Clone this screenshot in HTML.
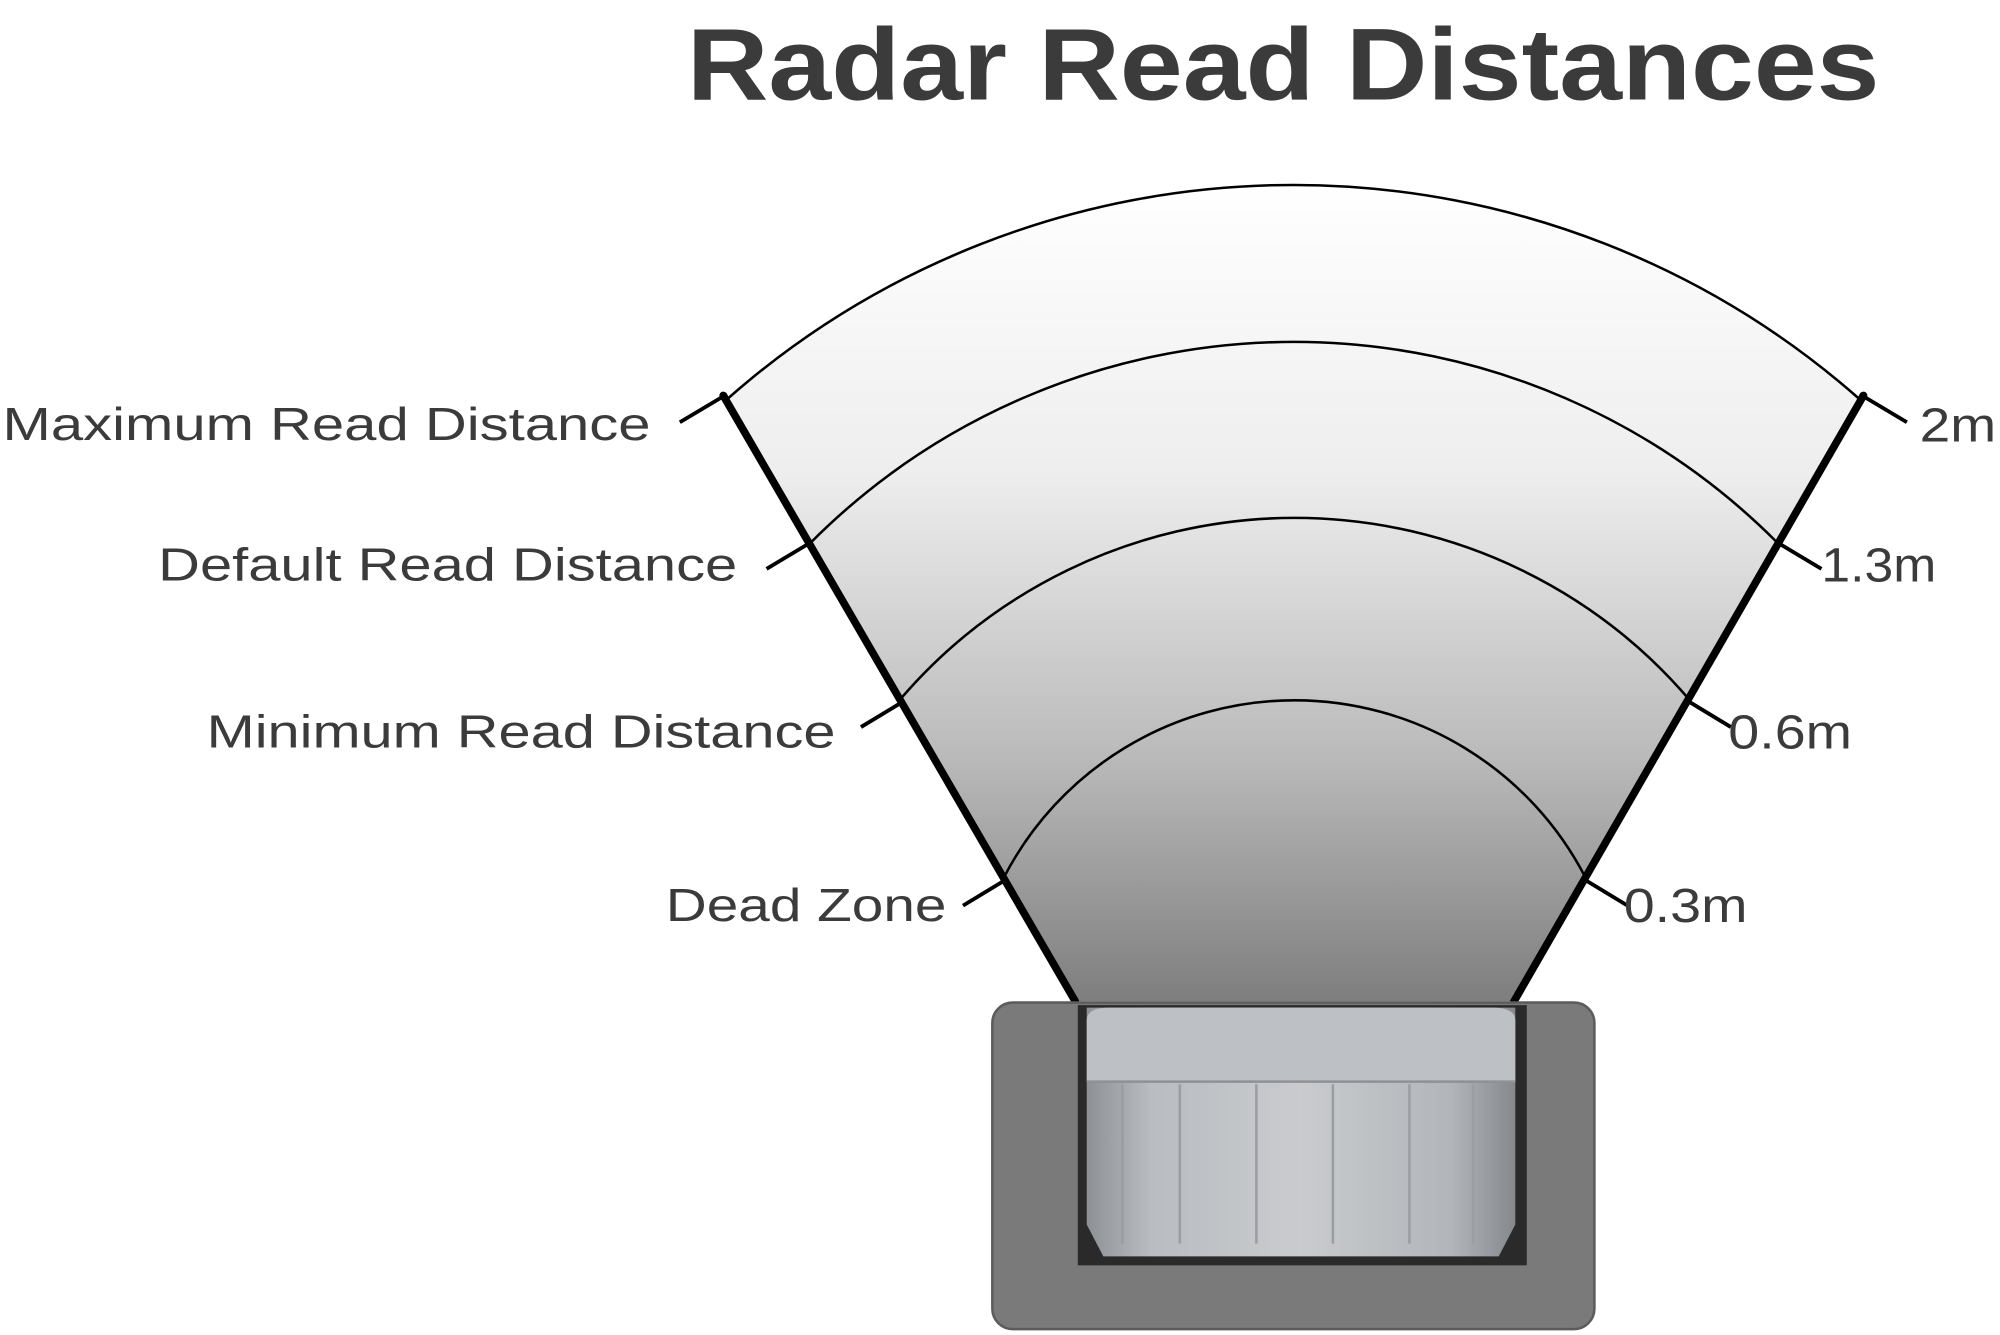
<!DOCTYPE html>
<html><head><meta charset="utf-8"><style>
html,body{margin:0;padding:0;background:#fff;}
svg{display:block;}
text{font-family:"Liberation Sans",sans-serif;fill:#3b3b3b;}
</style></head><body>
<svg width="2000" height="1335" viewBox="0 0 1568 1046.6" xmlns="http://www.w3.org/2000/svg">
<defs>
<linearGradient id="g" x1="0" y1="0" x2="0" y2="1" gradientUnits="objectBoundingBox">
<stop offset="0" stop-color="#ffffff"/>
<stop offset="0.35" stop-color="#eeeeee"/>
<stop offset="0.7" stop-color="#bababa"/>
<stop offset="1" stop-color="#7e7e7e"/>
</linearGradient>
<linearGradient id="cyl" x1="0" y1="0" x2="1" y2="0">
<stop offset="0" stop-color="#8d9094"/>
<stop offset="0.15" stop-color="#b9bcc0"/>
<stop offset="0.5" stop-color="#c9cbce"/>
<stop offset="0.85" stop-color="#b2b5b9"/>
<stop offset="1" stop-color="#85888c"/>
</linearGradient>
</defs>
<text x="1006" y="78" font-size="80" font-weight="bold" text-anchor="middle" textLength="935" lengthAdjust="spacingAndGlyphs">Radar Read Distances</text>

<path d="M570,313 A670.7,670.7 0 0 1 1458,313 L1187,785 L843,785 Z" fill="url(#g)"/>
<g fill="none" stroke="#000" stroke-width="2">
<path d="M570,313 A670.7,670.7 0 0 1 1458,313"/>
<path d="M636,425 A534.8,534.8 0 0 1 1393,425"/>
<path d="M706,548 A407.2,407.2 0 0 1 1324,548"/>
<path d="M787,688 A256.5,256.5 0 0 1 1243,688"/>
</g>
<g stroke="#000" stroke-width="6" stroke-linecap="round">
<line x1="567" y1="310" x2="843" y2="785"/>
<line x1="1461" y1="310" x2="1187" y2="785"/>
</g>
<g stroke="#000" stroke-width="3">
<line x1="533" y1="331" x2="570" y2="309"/>
<line x1="601" y1="446" x2="636" y2="425"/>
<line x1="675" y1="570" x2="708" y2="550"/>
<line x1="755" y1="710" x2="788" y2="690"/>
<line x1="1458" y1="309" x2="1495" y2="331"/>
<line x1="1393" y1="425" x2="1428" y2="446"/>
<line x1="1324" y1="550" x2="1357" y2="570"/>
<line x1="1243" y1="690" x2="1276" y2="710"/>
</g>
<g font-size="36">
<text x="510" y="345" text-anchor="end" textLength="508" lengthAdjust="spacingAndGlyphs">Maximum Read Distance</text>
<text x="578" y="455" text-anchor="end" textLength="454" lengthAdjust="spacingAndGlyphs">Default Read Distance</text>
<text x="655" y="586" text-anchor="end" textLength="493" lengthAdjust="spacingAndGlyphs">Minimum Read Distance</text>
<text x="742" y="722" text-anchor="end" textLength="220" lengthAdjust="spacingAndGlyphs">Dead Zone</text>
</g>
<g font-size="38">
<text x="1505" y="346" textLength="60" lengthAdjust="spacingAndGlyphs">2m</text>
<text x="1428" y="456" textLength="90" lengthAdjust="spacingAndGlyphs">1.3m</text>
<text x="1355" y="587" textLength="97" lengthAdjust="spacingAndGlyphs">0.6m</text>
<text x="1273" y="723" textLength="97" lengthAdjust="spacingAndGlyphs">0.3m</text>
</g>

<rect x="778" y="786" width="472" height="256" rx="16" fill="#7a7a7a" stroke="#5c5c5c" stroke-width="2"/>
<rect x="845" y="788" width="352" height="204" fill="#2a2a2a"/>
<path d="M852,790 L1188,790 L1188,960 L1175,985 L865,985 L852,960 Z" fill="url(#cyl)"/>
<path d="M852,800 Q852,790 870,790 L1170,790 Q1188,790 1188,800 L1188,848 L852,848 Z" fill="#bdc0c4"/>
<line x1="852" y1="848" x2="1188" y2="848" stroke="#8e9195" stroke-width="2"/>
<g stroke="#9a9da1" stroke-width="2">
<line x1="880" y1="850" x2="880" y2="975"/>
<line x1="925" y1="850" x2="925" y2="975"/>
<line x1="985" y1="850" x2="985" y2="975"/>
<line x1="1045" y1="850" x2="1045" y2="975"/>
<line x1="1105" y1="850" x2="1105" y2="975"/>
<line x1="1155" y1="850" x2="1155" y2="975"/>
</g>
</svg>
</body></html>
